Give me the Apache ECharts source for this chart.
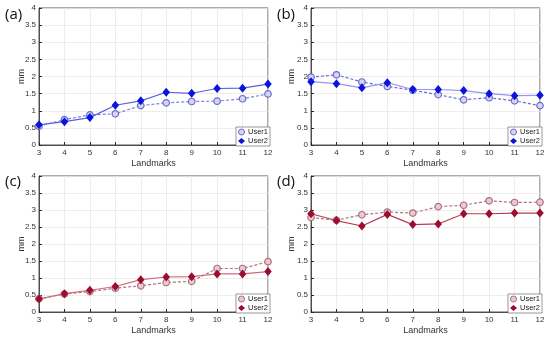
<!DOCTYPE html>
<html><head><meta charset="utf-8">
<script src="https://cdn.jsdelivr.net/npm/echarts@6/dist/echarts.min.js"></script>
<style>html,body{margin:0;padding:0;background:#fff}#c{width:550px;height:339px}</style>
</head><body><div id="c"></div>
<script>
const landmarks = [3,4,5,6,7,8,9,10,11,12];
const yTicks = [0,0.5,1,1.5,2,2.5,3,3.5,4];
const panelLabels = ['(a)','(b)','(c)','(d)'];
const seriesNames = ['User1','User2'];
const a_user1 = [0.55,0.74,0.88,0.91,1.15,1.23,1.27,1.28,1.35,1.49];
const a_user2 = [0.59,0.68,0.80,1.16,1.29,1.54,1.51,1.65,1.66,1.78];
const b_user1 = [1.98,2.05,1.84,1.71,1.60,1.47,1.32,1.38,1.29,1.15];
const b_user2 = [1.85,1.79,1.67,1.82,1.62,1.62,1.59,1.50,1.44,1.45];
const c_user1 = [0.39,0.53,0.60,0.70,0.77,0.87,0.90,1.28,1.28,1.48];
const c_user2 = [0.38,0.54,0.64,0.75,0.95,1.03,1.04,1.12,1.12,1.19];
const d_user1 = [2.78,2.70,2.86,2.94,2.91,3.10,3.14,3.27,3.22,3.23];
const d_user2 = [2.89,2.69,2.53,2.87,2.57,2.59,2.89,2.89,2.91,2.91];

const panels = [
  {u1:a_user1,u2:a_user2,left:39,top:8,height:137,nameGap:13,labelX:5,labelY:7,theme:'blue',line2:'#5a60e4',line1:'#8080e0'},
  {u1:b_user1,u2:b_user2,left:311,top:8,height:137,nameGap:15,labelX:277,labelY:7,theme:'blue',line2:'#9498f2',line1:'#6a6ae0'},
  {u1:c_user1,u2:c_user2,left:39,top:176,height:136,nameGap:13,labelX:5,labelY:174,theme:'red',line2:'#d06a80',line1:'#b07080'},
  {u1:d_user1,u2:d_user2,left:311,top:176,height:136,nameGap:15,labelX:277,labelY:174,theme:'red',line2:'#b83c58',line1:'#b07080'}
];
const themes = {
  blue:{m2:'#0a14dc',c1fill:'#d4d4f4',c1edge:'#6a6ac8'},
  red:{m2:'#9c0c2c',c1fill:'#ecc8d2',c1edge:'#a87080'}
};
const W = 229;
const font = 'Liberation Sans, Arial, sans-serif';
const grids=[],xAxes=[],yAxes=[],series=[],legends=[],graphics=[];
panels.forEach((p,i)=>{
  const t = themes[p.theme];
  grids.push({left:p.left,top:p.top,width:W,height:p.height,show:true,borderColor:'#2a2a2a',borderWidth:0.8,backgroundColor:'#fff'});
  xAxes.push({gridIndex:i,type:'value',min:3,max:12,interval:1,
    name:'Landmarks',nameLocation:'middle',nameGap:14,nameMoveOverlap:false,
    nameTextStyle:{fontFamily:font,fontSize:9,color:'#333'},
    axisLine:{lineStyle:{color:'#2a2a2a',width:0.8}},
    axisTick:{inside:true,length:3,lineStyle:{color:'#2a2a2a'}},
    axisLabel:{fontFamily:font,fontSize:8,color:'#333',margin:4},
    splitLine:{show:true,lineStyle:{color:'#e8e8e8',width:0.8}}});
  yAxes.push({gridIndex:i,type:'value',min:0,max:4,interval:0.5,
    name:'mm',nameLocation:'middle',nameGap:p.nameGap,nameRotate:90,nameMoveOverlap:false,
    nameTextStyle:{fontFamily:font,fontSize:9,color:'#333'},
    axisLine:{lineStyle:{color:'#2a2a2a',width:0.8}},
    axisTick:{inside:true,length:3,lineStyle:{color:'#2a2a2a'}},
    axisLabel:{fontFamily:font,fontSize:8,color:'#333',margin:3,formatter:v=>String(v)},
    splitLine:{show:true,lineStyle:{color:'#e8e8e8',width:0.8}}});
  series.push({name:seriesNames[0],type:'line',xAxisIndex:i,yAxisIndex:i,
    data:landmarks.map((x,k)=>[x,p.u1[k]]),symbol:'circle',symbolSize:6.5,
    lineStyle:{type:[3,2],width:1.2,color:p.line1},
    itemStyle:{color:t.c1fill,borderColor:t.c1edge,borderWidth:1.2},z:3});
  series.push({name:seriesNames[1],type:'line',xAxisIndex:i,yAxisIndex:i,
    data:landmarks.map((x,k)=>[x,p.u2[k]]),symbol:'diamond',symbolSize:[7.5,9],
    lineStyle:{type:'solid',width:1.2,color:p.line2},
    itemStyle:{color:t.m2},z:4});
  legends.push({orient:'vertical',left:p.left+W-32,top:p.top+p.height-18,
    itemGap:1,itemWidth:7,itemHeight:6,padding:[1,2,1,2],
    borderColor:'#555',borderWidth:0.6,backgroundColor:'#fff',
    textStyle:{fontFamily:font,fontSize:7.5,color:'#222',padding:[0,0,0,-2]},
    selectedMode:false,
    data:[{name:'User1',icon:'circle',itemStyle:{color:t.c1fill,borderColor:t.c1edge,borderWidth:1}},
          {name:'User2',icon:'diamond',itemStyle:{color:t.m2,borderWidth:0}}]});
  graphics.push({type:'text',left:p.labelX,top:p.labelY,
    style:{text:panelLabels[i],font:'15px "Open Sans", sans-serif',fill:'#111'}});
});
const chart = echarts.init(document.getElementById('c'),null,{renderer:'canvas'});
chart.setOption({animation:false,grid:grids,xAxis:xAxes,yAxis:yAxes,series:series,legend:legends,graphic:graphics});
</script></body></html>
